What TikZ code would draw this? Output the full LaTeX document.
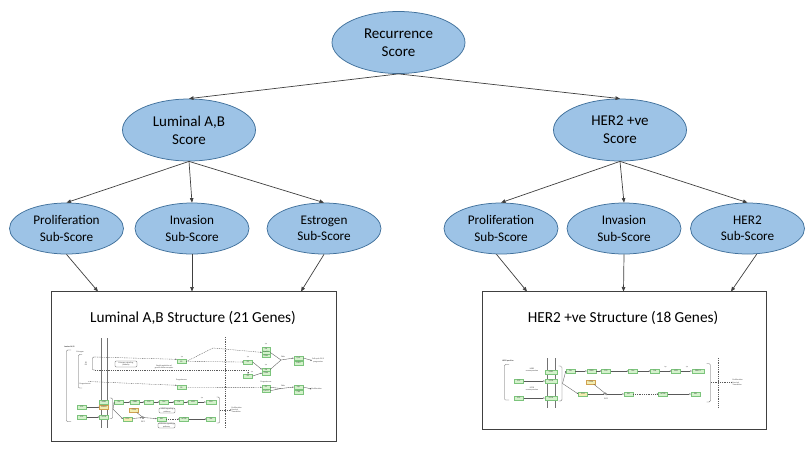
\documentclass[tikz,border=0pt]{standalone}
\usepackage{fontspec}
\setmainfont{Carlito}
\usetikzlibrary{arrows.meta,shapes.geometric}
\definecolor{ellfill}{HTML}{9DC3E6}
\definecolor{ellline}{HTML}{41719C}
\definecolor{conn}{HTML}{404040}
\definecolor{kgfill}{HTML}{D4F2CC}
\definecolor{kgline}{HTML}{7CC47C}
\definecolor{kyfill}{HTML}{F2EDB0}
\definecolor{kyline}{HTML}{D0A050}
\newcommand\tinyfnt{\fontsize{2}{2.2}\selectfont}
\tikzset{
  ell/.style={ellipse, draw=ellline, line width=0.75pt, fill=ellfill, inner sep=0pt, align=center, text=black},
  bigell/.style={ell, minimum width=133pt, minimum height=62pt, font=\fontsize{15}{18.3}\selectfont},
  subell/.style={ell, minimum width=114pt, minimum height=51pt, font=\fontsize{13.2}{16.3}\selectfont},
  link/.style={draw=conn, line width=0.7pt, -{Triangle[length=4.5pt,width=3.6pt]}},
  panel/.style={draw=conn, line width=0.9pt, fill=white, inner sep=0pt},
  ptitle/.style={font=\fontsize{15.3}{18}\selectfont, inner sep=0pt},
  gb/.style={draw=kgline, fill=kgfill, line width=0.4pt, minimum width=9pt, minimum height=4pt, inner sep=0pt, font=\tinyfnt, text=black!75},
  yb/.style={gb, draw=kyline, fill=kyfill},
  pw/.style={draw=black!65, line width=0.35pt},
  pwa/.style={pw, -{Triangle[length=1.4pt,width=1.2pt]}},
  pwd/.style={pw, dash pattern=on 1pt off 0.8pt},
  pwda/.style={pwd, -{Triangle[length=1.4pt,width=1.2pt]}},
  lbl/.style={font=\tinyfnt, inner sep=0pt, text=black!75, align=center},
  rbox/.style={draw=black!60, rounded corners=1.2pt, line width=0.35pt, inner sep=0pt, font=\tinyfnt, align=center, text=black!75},
  mem/.style={draw=black!55, line width=0.6pt},
  dot/.style={circle, draw=black!70, line width=0.35pt, minimum size=2pt, inner sep=0pt}
}
\begin{document}
\begin{tikzpicture}[x=1pt,y=-1pt]
\useasboundingbox (0,0) rectangle (806,453);
\fill[white] (0,0) rectangle (806,453);

% ---- score tree ----
\node[bigell] (rec) at (398.5,42.5) {Recurrence\\Score};
\node[bigell] (lum) at (189,130) {Luminal A,B\\Score};
\node[bigell] (her) at (620,130) {HER2 +ve\\Score};
\node[subell] (prolL) at (66.5,228.5) {Proliferation\\Sub-Score};
\node[subell] (invL) at (192,228.5) {Invasion\\Sub-Score};
\node[subell] (estL) at (324,228.5) {Estrogen\\Sub-Score};
\node[subell] (prolR) at (501,228.5) {Proliferation\\Sub-Score};
\node[subell] (invR) at (624,228.5) {Invasion\\Sub-Score};
\node[subell] (herS) at (747.5,228.5) {HER2\\Sub-Score};

\draw[link] (rec.south) -- (lum.north);
\draw[link] (rec.south) -- (her.north);
\draw[link] (lum.south) -- (prolL.north);
\draw[link] (lum.south) -- (invL.north);
\draw[link] (lum.south) -- (estL.north);
\draw[link] (her.south) -- (prolR.north);
\draw[link] (her.south) -- (invR.north);
\draw[link] (her.south) -- (herS.north);

% ---- panels ----
\node[panel, minimum width=285pt, minimum height=150pt] (boxL) at (194,366.5) {};
\node[panel, minimum width=283.5pt, minimum height=138pt] (boxR) at (624.25,360.5) {};
\node[ptitle] (titleL) at (193,318) {Luminal A,B Structure (21 Genes)};
\node[ptitle] (titleR) at (623,318) {HER2 +ve Structure (18 Genes)};

\coordinate (inL1) at (98,291.5);
\coordinate (inL2) at (192,291.5);
\coordinate (inL3) at (301,291.5);
\coordinate (inR1) at (527,291.5);
\coordinate (inR2) at (623.5,291.5);
\coordinate (inR3) at (731,291.5);
\draw[link] (prolL.south) -- (inL1);
\draw[link] (invL.south) -- (inL2);
\draw[link] (estL.south) -- (inL3);
\draw[link] (prolR.260) -- (inR1);
\draw[link] (invR.south) -- (inR2);
\draw[link] (herS.290) -- (inR3);

% ---- HER2 pathway (right) ----
\node[lbl, font=\tinyfnt\bfseries] (hpos) at (508,361) {HER2 positive};
\draw[pw, rounded corners=1pt] (509,364.5) -| (504.5,400) -- (509,400);
\draw[mem] (547,358) -- (547,408);
\draw[mem] (555,358) -- (555,408);
\node[gb, minimum width=12pt] (hm1) at (551,372) {HER2};
\node[gb, minimum width=12pt] (hm2) at (551,381) {EGFR};
\node[gb, minimum width=12pt] (hm3) at (551,398) {EGFR};
\node[gb] (hegf1) at (519,381) {EGF};
\node[gb] (hegf2) at (519,398) {EGF};
\draw[pwa] (hegf1) -- (hm2);
\draw[pwa] (hegf2) -- (hm3);
\node[lbl] (hov1) at (532,370) {HER2\\overexpression};
\node[lbl] (hov2) at (532,389) {EGFR\\overexpression};
\draw[pw, rounded corners=1.5pt] (558.5,366) -| (562,401) -- (558.5,401);
\coordinate (hbr) at (562.5,383.5);
\node[gb] (hshc) at (570.5,371) {Shc};
\node[gb] (hgrb) at (591.5,371) {GRB2};
\node[gb] (hsos) at (606,371) {SOS};
\node[gb] (hras) at (633,371) {Ras};
\node[gb] (hraf) at (655,371) {Raf};
\node[gb] (hmek) at (676,371) {MEK};
\node[gb, minimum width=12pt] (herk) at (698,371) {ERK1/2};
\draw[pwa] (hbr) -- (hshc.west);
\draw[pwa] (hshc) -- (hgrb);
\draw[pwa] (hgrb) -- (hsos);
\draw[pwa] (hsos) -- (hras);
\draw[pwa] (hras) -- (hraf);
\draw[pwa] (hraf) -- (hmek);
\draw[pwa] (hmek) -- (herk);
\node[lbl] (hp1) at (665.5,367.4) {+p};
\node[lbl] (hp2) at (687,367.4) {+p};
\node[yb, draw=kgline] (hpi3k) at (583,394) {PI3K};
\node[yb] (hpten) at (591,382) {PTEN};
\node[dot] (hpip) at (606,394) {};
\node[lbl] (hpipl) at (606,398.8) {PIP3};
\node[gb] (hakt) at (628.5,394) {Akt};
\node[gb] (hmtor) at (663,394) {mTOR};
\node[gb] (hs6k) at (695.5,394) {S6K};
\draw[pwa] (hbr) -- (hpi3k.west);
\draw[pwa] (hpi3k) -- (hpip);
\draw[pwa] (hpip) -- (hakt);
\draw[pw, -{Bar[width=1.5pt]}] (hpten) -- (hpip);
\draw[pwda] (hakt) -- (hmtor);
\draw[pwa] (hmtor) -- (hs6k);
\draw[pw, rounded corners=1.5pt] (706.5,363.5) -| (710.5,402) -- (706.5,402);
\coordinate (hbr2) at (711,382.5);
\draw[pwd, line width=0.45pt] (718,358) -- (718,408);
\node[lbl, align=left, anchor=west] (hout) at (732.5,382.5) {Proliferation\\Survival\\Translation};
\draw[pwda] (hbr2) -- (hout.west);

% ---- Luminal pathway (left) ----
\draw[pw, rounded corners=1pt] (71,350) -| (66.5,421.5) -- (71,421.5);
\node[lbl, font=\tinyfnt\bfseries, anchor=west] (llum) at (64,347) {Luminal A/B};
\draw[pw, rounded corners=1pt] (82,354.5) -| (78.5,388) -- (82,388);
\node[lbl, anchor=west] (lestr) at (76.5,352) {Estrogen};
\node[lbl] (le2) at (86,363.5) {E2\\ER};
\draw[pw, rounded corners=1pt] (95,357) -| (92.5,370) -- (95,370);
\coordinate (lup) at (95,357);
\coordinate (llo) at (95,370);
\draw[mem] (101,338) -- (101,428);
\draw[mem] (107,338) -- (107,428);
\node[rbox, minimum width=22pt, minimum height=6pt] (lesp) at (126,364) {Estrogen signaling\\pathway};
\node[gb] (lb1) at (181.5,361.5) {ER};
\node[lbl] (lb1p) at (182,357) {+p};
\node[lbl] (lrap) at (164,366.6) {Rapid regulation of\\growth factor receptor};
\node[gb] (lb2) at (248,362) {ER};
\node[lbl] (lb2p) at (248,357.5) {+p};
\node[gb] (lb3) at (248,376) {ER};
\node[lbl] (lb3p) at (252,372) {+p};
\node[gb, minimum height=3.4pt, minimum width=8pt] (ls1a) at (266,349) {Rb};
\node[gb, minimum height=3.4pt, minimum width=8pt] (ls1b) at (266,352.4) {CycD1};
\node[gb, minimum height=3.4pt, minimum width=8pt] (ls1c) at (266,355.8) {CDK4};
\node[lbl] (ls1p) at (266,344.5) {+p};
\node[gb, minimum height=3.4pt, minimum width=8pt] (ls2a) at (266,369.5) {Rb};
\node[gb, minimum height=3.4pt, minimum width=8pt] (ls2b) at (266,373) {CDK6};
\node[lbl] (ls2p) at (266,365) {+p};
\draw[pwda] (lup) -- (lb1.north west);
\draw[pwda] (llo) -| (lb3.north);
\draw[pwda] (lb1.east) -- (lb2.west);
\draw[pwda] (lb1.east) -- (213,348) -- (ls1b.west);
\draw[pwa] (lb2.east) -- (ls2a.west);
\draw[pwa] (lb3.east) -- (ls2b.west);
\coordinate (lcv1) at (281,360);
\node[lbl] (lcv1l) at (283,357) {Cdks};
\draw[pw] (ls1b.east) -- (lcv1);
\draw[pw] (ls2a.east) -- (lcv1);
\node[gb] (lo1a) at (298.5,358) {CycE};
\node[gb] (lo1b) at (298.5,363) {Cdk2};
\draw[pwa] (lcv1) -- (lo1a.west);
\node[lbl, anchor=west] (lt1) at (312,360.5) {Cell cycle G1/S\\progression};
\draw[pwa] (lo1a.east) -- (lt1.west);

\node[lbl, anchor=west] (lprog) at (79.5,384.5) {Progesterone};
\coordinate (lpg) at (88,381.5);
\node[gb] (lpb) at (181.5,387.5) {PR};
\node[lbl] (lpbl) at (181.5,380.5) {Progesterone};
\draw[pwda] (lpg) -- (lpb.north west);
\node[gb, minimum height=3.4pt, minimum width=8pt] (ls3a) at (266,387.3) {PR};
\node[gb, minimum height=3.4pt, minimum width=8pt] (ls3b) at (266,390.7) {CycD1};
\node[lbl] (ls3p) at (266,382.5) {Progesterone};
\draw[pwda] (lpb.east) -- (ls3a.west);
\coordinate (lcv2) at (281,388.5);
\node[lbl] (lcv2l) at (283,385.5) {Cdks};
\draw[pw] (ls3a.east) -- (lcv2);
\draw[pw] (ls3b.east) -- (lcv2);
\node[gb] (lo2a) at (298.5,387) {Myc};
\node[gb] (lo2b) at (298.5,392) {Cdk};
\draw[pwa] (lcv2) -- (lo2a.west);
\node[lbl, anchor=west] (lt2) at (311.5,389) {Proliferation};
\draw[pwa] (lo2a.east) -- (lt2.west);

\node[gb] (lm1) at (104,402.3) {HER2};
\node[yb] (lm2) at (104,407.3) {ERBB3};
\node[gb] (lm3) at (104,417) {EGFR};
\node[gb] (le1) at (82,407.3) {EGF};
\node[gb] (le2b) at (82,417) {EGF};
\draw[pwa] (le1) -- (lm2);
\draw[pwa] (le2b) -- (lm3);
\draw[pw, rounded corners=1pt] (109.5,398) -| (112.5,418.5) -- (109.5,418.5);
\coordinate (lbrk) at (113,409);
\node[gb] (lr1) at (119,402) {Shc};
\node[gb] (lr2) at (135,402) {GRB2};
\node[gb] (lr3) at (149,402) {SOS};
\node[gb] (lr4) at (164,402) {Ras};
\node[gb] (lr5) at (179,402) {Raf};
\node[gb] (lr6) at (193,402) {MEK};
\node[gb, minimum width=10pt] (lr7) at (211,402) {ERK};
\draw[pwa] (lbrk) -- (lr1.west);
\draw[pwa] (lr1) -- (lr2);
\draw[pwa] (lr2) -- (lr3);
\draw[pwa] (lr3) -- (lr4);
\draw[pwa] (lr4) -- (lr5);
\draw[pwa] (lr5) -- (lr6);
\draw[pwa] (lr6) -- (lr7);
\node[lbl] (lrp) at (202,398.4) {+p};
\node[rbox, minimum width=16pt, minimum height=5pt] (lmapk) at (167,410.5) {MAPK signaling\\pathway};
\node[yb] (lpten) at (134,410.3) {PTEN};
\node[yb, draw=kgline] (lp1) at (127.5,419) {PI3K};
\node[dot] (lpip) at (143,417.5) {};
\node[lbl] (lpipl) at (143,422) {PIP3};
\node[gb] (lp2) at (161.5,419) {Akt};
\node[gb] (lp3) at (184,419) {mTOR};
\node[gb] (lp4) at (211,419) {S6K};
\draw[pwa] (lbrk) -- (lp1.west);
\draw[pwa] (lp1) -- (lpip);
\draw[pwa] (lpip) -- (lp2);
\draw[pw, -{Bar[width=1.5pt]}] (lpten) -- (lpip);
\draw[pwda] (lp2) -- (lp3);
\draw[pwa] (lp3) -- (lp4);
\node[rbox, minimum width=17pt, minimum height=5pt] (lpi3k) at (166.5,425.5) {PI3K-Akt signaling\\pathway};
\draw[pw, rounded corners=1pt] (216.5,397) -| (219.5,423) -- (216.5,423);
\coordinate (lbr2) at (220,410);
\draw[pwd, line width=0.45pt] (225,337) -- (225,428);
\node[lbl, align=left, anchor=west] (lout) at (231.5,410) {Proliferation\\Survival\\Translation};
\draw[pwda] (lbr2) -- (lout.west);
\end{tikzpicture}
\end{document}
